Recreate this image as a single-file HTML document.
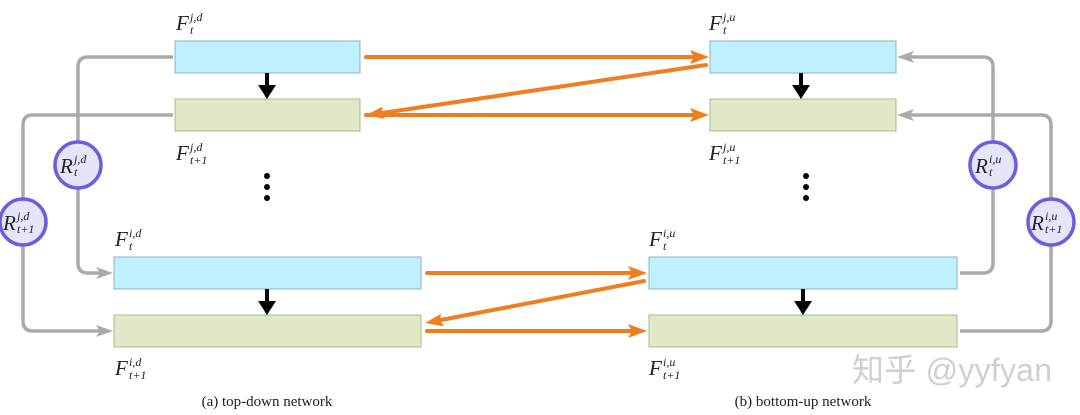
<!DOCTYPE html>
<html><head><meta charset="utf-8"><style>
body{margin:0;background:#fff;}
svg{display:block}
.m{font-family:"Liberation Serif",serif;font-style:italic;fill:#222}
.cap{font-family:"Liberation Serif",serif;font-size:15px;fill:#222}
</style></head><body>
<svg width="1080" height="415" viewBox="0 0 1080 415" xmlns="http://www.w3.org/2000/svg">
<g fill="none" stroke="#aaa" stroke-width="3.5">
<path d="M173,57 H88 Q78,57 78,67 V263 Q78,273 88,273 H100"/>
<path d="M173,115 H33 Q23,115 23,125 V321 Q23,331 33,331 H100"/>
<path d="M960,273 H983 Q993,273 993,263 V67 Q993,57 983,57 H910"/>
<path d="M960,331 H1041 Q1051,331 1051,321 V125 Q1051,115 1041,115 H910"/>
</g>
<g fill="#aaa">
<path d="M96,267 L113,273 L96,279 L100,273z"/>
<path d="M96,325 L113,331 L96,337 L100,331z"/>
<path d="M914,51 L897,57 L914,63 L910,57z"/>
<path d="M914,109 L897,115 L914,121 L910,115z"/>
</g>
<g stroke="#8fb0c0" stroke-width="1">
<rect x="175" y="41" width="185" height="32" fill="#bff0fd"/>
<rect x="175" y="99" width="185" height="32" fill="#dfe9c6" stroke="#a9bb88"/>
<rect x="710" y="41" width="186" height="32" fill="#bff0fd"/>
<rect x="710" y="99" width="186" height="32" fill="#dfe9c6" stroke="#a9bb88"/>
<rect x="114" y="257" width="307" height="32" fill="#bff0fd"/>
<rect x="114" y="315" width="307" height="32" fill="#dfe9c6" stroke="#a9bb88"/>
<rect x="649" y="257" width="308" height="32" fill="#bff0fd"/>
<rect x="649" y="315" width="308" height="32" fill="#dfe9c6" stroke="#a9bb88"/>
</g>
<g fill="none" stroke="#f07d1e" stroke-width="4" stroke-linecap="round">
<path d="M366,57 H694"/>
<path d="M706,65 L382,113"/>
<path d="M366,115 H694"/>
<path d="M427,273 H632"/>
<path d="M644,281 L441,320"/>
<path d="M427,331 H632"/>
</g>
<g fill="#f07d1e">
<path d="M690,50 L709,57 L690,64 L694,57z"/>
<path d="M690,108 L709,115 L690,122 L694,115z"/>
<path d="M628,266 L647,273 L628,280 L632,273z"/>
<path d="M628,324 L647,331 L628,338 L632,331z"/>
<path d="M366,115 L383,106.5 L381,113 L385,119z"/>
<path d="M425,323 L441,313.8 L440,320 L444,326.3z"/>
</g>
<g fill="#000">
<rect x="265" y="73" width="4" height="14"/><path d="M258,85 H276 L267,99z"/>
<rect x="799" y="73" width="4" height="14"/><path d="M792,85 H810 L801,99z"/>
<rect x="265" y="289" width="4" height="14"/><path d="M258,301 H276 L267,315z"/>
<rect x="801" y="289" width="4" height="14"/><path d="M794,301 H812 L803,315z"/>
<circle cx="267" cy="176" r="3"/><circle cx="267" cy="187" r="3"/><circle cx="267" cy="198" r="3"/>
<circle cx="806" cy="176" r="3"/><circle cx="806" cy="187" r="3"/><circle cx="806" cy="198" r="3"/>
</g>
<g fill="#e4e4fb" stroke="#6a5fdc" stroke-width="3.5">
<circle cx="78" cy="165" r="23"/><circle cx="23" cy="222" r="23"/>
<circle cx="993" cy="165" r="23"/><circle cx="1051" cy="222" r="23"/>
</g>
<g class="m">
<text x="60" y="173" font-size="21">R</text><text x="74" y="163" font-size="12">j,d</text><text x="74" y="176" font-size="12">t</text>
<text x="3" y="230" font-size="21">R</text><text x="17" y="220" font-size="12">j,d</text><text x="17" y="233" font-size="12">t+1</text>
<text x="975" y="173" font-size="21">R</text><text x="989" y="163" font-size="12">i,u</text><text x="989" y="176" font-size="12">t</text>
<text x="1031" y="230" font-size="21">R</text><text x="1045" y="220" font-size="12">i,u</text><text x="1045" y="233" font-size="12">t+1</text>

<text x="176" y="30" font-size="21">F</text><text x="190" y="21" font-size="12">j,d</text><text x="190" y="34" font-size="12">t</text>
<text x="176" y="160" font-size="21">F</text><text x="190" y="151" font-size="12">j,d</text><text x="190" y="164" font-size="12">t+1</text>
<text x="115" y="246" font-size="21">F</text><text x="129" y="237" font-size="12">i,d</text><text x="129" y="250" font-size="12">t</text>
<text x="115" y="375" font-size="21">F</text><text x="129" y="366" font-size="12">i,d</text><text x="129" y="379" font-size="12">t+1</text>
<text x="709" y="30" font-size="21">F</text><text x="723" y="21" font-size="12">j,u</text><text x="723" y="34" font-size="12">t</text>
<text x="709" y="160" font-size="21">F</text><text x="723" y="151" font-size="12">j,u</text><text x="723" y="164" font-size="12">t+1</text>
<text x="649" y="246" font-size="21">F</text><text x="663" y="237" font-size="12">i,u</text><text x="663" y="250" font-size="12">t</text>
<text x="649" y="375" font-size="21">F</text><text x="663" y="366" font-size="12">i,u</text><text x="663" y="379" font-size="12">t+1</text>
</g>
<text class="cap" x="267" y="406" text-anchor="middle">(a) top-down network</text>
<text class="cap" x="803" y="406" text-anchor="middle">(b) bottom-up network</text>
<text x="852" y="381" font-family="'Liberation Sans','Noto Sans CJK SC',sans-serif" font-size="32" fill="#cfcfcf" textLength="200">知乎 @yyfyan</text>
</svg>
</body></html>
